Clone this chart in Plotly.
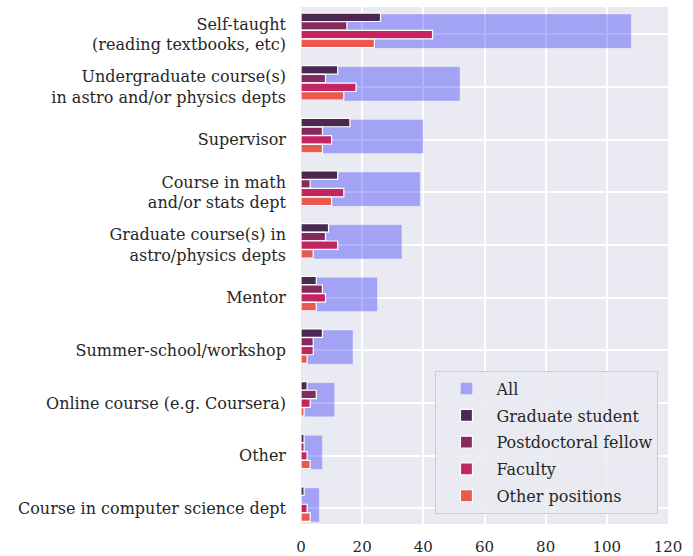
import plotly.graph_objects as go

categories = [
    "Self-taught<br>(reading textbooks, etc)",
    "Undergraduate course(s)<br>in astro and/or physics depts",
    "Supervisor",
    "Course in math<br>and/or stats dept",
    "Graduate course(s) in<br>astro/physics depts",
    "Mentor",
    "Summer-school/workshop",
    "Online course (e.g. Coursera)",
    "Other",
    "Course in computer science dept",
]
all_vals = [108, 52, 40, 39, 33, 25, 17, 11, 7, 6]
grad_vals = [26, 12, 16, 12, 9, 5, 7, 2, 1, 1]
postdoc_vals = [15, 8, 7, 3, 8, 7, 4, 5, 1, 0]
faculty_vals = [43, 18, 10, 14, 12, 8, 4, 3, 2, 2]
other_vals = [24, 14, 7, 10, 4, 5, 2, 1, 3, 3]
x_ticks = [0, 20, 40, 60, 80, 100, 120]

series = [
    ("Graduate student", grad_vals, "#4a2852"),
    ("Postdoctoral fellow", postdoc_vals, "#85295f"),
    ("Faculty", faculty_vals, "#c2255f"),
    ("Other positions", other_vals, "#e85a4f"),
]
offsets = [-0.325, -0.16, 0.005, 0.17]

pos = list(range(len(categories)))
fig = go.Figure()
fig.add_trace(go.Bar(
    x=all_vals, y=[p - 0.06 for p in pos], orientation="h", width=0.65,
    name="All", legendgroup="all",
    marker=dict(color="rgba(0,0,255,0.3)",
                line=dict(color="rgba(255,255,255,0.3)", width=1)),
))
for (name, vals, col), off in zip(series, offsets):
    fig.add_trace(go.Bar(
        x=vals, y=[p + off for p in pos], orientation="h", width=0.16,
        name=name, legendgroup=name,
        marker=dict(color=col, line=dict(color="white", width=1.2)),
    ))

font_family = "DejaVu Serif"
fig.update_layout(
    width=693, height=556,
    margin=dict(l=301, r=25, t=7, b=32),
    barmode="overlay",
    paper_bgcolor="white",
    plot_bgcolor="#EAEAF2",
    font=dict(family=font_family, size=15, color="#262626"),
    showlegend=True,
    legend=dict(
        x=0.974, y=0.02, xanchor="right", yanchor="bottom",
        bgcolor="rgba(234,234,242,0.85)", bordercolor="#cccccc", borderwidth=1,
        font=dict(family=font_family, size=16, color="#262626"),
        itemwidth=50, tracegroupgap=3,
    ),
    xaxis=dict(
        range=[0, 120], tickvals=x_ticks, ticktext=[str(t) for t in x_ticks],
        showgrid=True, gridcolor="white", gridwidth=1.5, zeroline=False,
        showline=False, ticks="", tickfont=dict(size=15), fixedrange=True,
        ticklabelstandoff=12, automargin=False,
    ),
    yaxis=dict(
        range=[9.3, -0.52], tickvals=pos, ticktext=categories,
        showgrid=True, gridcolor="white", gridwidth=1.5, zeroline=False,
        showline=False, ticks="", tickfont=dict(size=16), fixedrange=True,
        ticklabelstandoff=14, automargin=False,
    ),
)
fig.write_html("out.html", post_script="document.body.style.margin='0';",
               config={"displayModeBar": False})
